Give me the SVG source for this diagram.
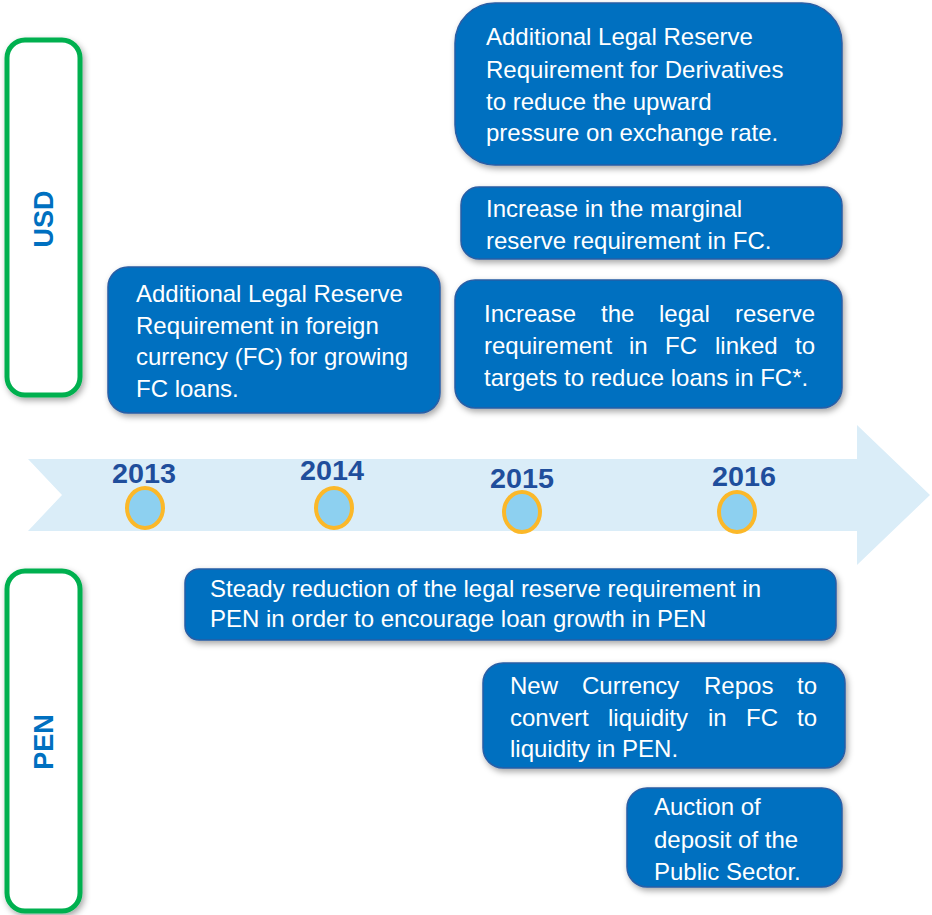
<svg xmlns="http://www.w3.org/2000/svg" width="932" height="915" viewBox="0 0 932 915">
<defs>
<filter id="sh" x="-10%" y="-10%" width="125%" height="135%">
<feDropShadow dx="2" dy="3" stdDeviation="3" flood-color="#000" flood-opacity="0.35"/>
</filter>
<style>
.box{fill:#0070C0;stroke:#2A5EA5;stroke-width:1.5;filter:url(#sh)}
.side{fill:#fff;stroke:#00B050;stroke-width:5;filter:url(#sh)}
.t{font-family:"Liberation Sans",Arial,sans-serif;font-size:24px;fill:#fff}
.side-t{font-family:"Liberation Sans",Arial,sans-serif;font-size:27px;font-weight:bold;fill:#0070C0}
.yr{font-family:"Liberation Sans",Arial,sans-serif;font-size:28px;font-weight:bold;fill:#1F4E9C;text-anchor:middle}
.dot{fill:#8DD0F0;stroke:#FBB829;stroke-width:4}
</style>
</defs>
<rect width="932" height="915" fill="#fff"/>

<g id="usd">
<rect class="side" x="7" y="40" width="73" height="355" rx="18"/>
<text class="side-t" transform="translate(53,219) rotate(-90)" text-anchor="middle">USD</text>
</g>
<g id="pen">
<rect class="side" x="7" y="571" width="73" height="340" rx="18"/>
<text class="side-t" transform="translate(53,742) rotate(-90)" text-anchor="middle">PEN</text>
</g>

<g id="timeline">
<polygon points="28,459 857,459 857,425 930,495 857,565 857,531 28,531 62,495" fill="#DAEDF8"/>
<ellipse class="dot" cx="145" cy="508" rx="18" ry="20"/>
<ellipse class="dot" cx="334" cy="508" rx="18" ry="20"/>
<ellipse class="dot" cx="522" cy="512" rx="18" ry="20"/>
<ellipse class="dot" cx="737" cy="512" rx="18" ry="20"/>
<text class="yr" x="144" y="483" textLength="64" lengthAdjust="spacingAndGlyphs">2013</text>
<text class="yr" x="332" y="480" textLength="64" lengthAdjust="spacingAndGlyphs">2014</text>
<text class="yr" x="522" y="488" textLength="64" lengthAdjust="spacingAndGlyphs">2015</text>
<text class="yr" x="744" y="486" textLength="64" lengthAdjust="spacingAndGlyphs">2016</text>
</g>

<g id="connectors"></g>

<g id="derivatives">
<rect class="box" x="455" y="3" width="387" height="162" rx="40"/>
<text class="t" x="486" y="45">Additional Legal Reserve</text>
<text class="t" x="486" y="78">Requirement for Derivatives</text>
<text class="t" x="486" y="110">to reduce the upward</text>
<text class="t" x="486" y="141">pressure on exchange rate.</text>
</g>

<g id="marginal">
<rect class="box" x="461" y="187" width="381" height="72" rx="18"/>
<text class="t" x="486" y="217">Increase in the marginal</text>
<text class="t" x="486" y="249">reserve requirement in FC.</text>
</g>

<g id="targets">
<rect class="box" x="455" y="280" width="387" height="128" rx="20"/>
<text class="t" y="322"><tspan x="484">Increase</tspan><tspan x="601">the</tspan><tspan x="659">legal</tspan><tspan x="815" text-anchor="end">reserve</tspan></text>
<text class="t" y="354"><tspan x="484">requirement</tspan><tspan x="629">in</tspan><tspan x="665">FC</tspan><tspan x="715">linked</tspan><tspan x="815" text-anchor="end">to</tspan></text>
<text class="t" x="484" y="386">targets to reduce loans in FC*.</text>
</g>

<g id="fc-loans">
<rect class="box" x="108" y="267" width="332" height="146" rx="20"/>
<text class="t" x="136" y="302">Additional Legal Reserve</text>
<text class="t" x="136" y="334">Requirement in foreign</text>
<text class="t" x="136" y="365">currency (FC) for growing</text>
<text class="t" x="136" y="397">FC loans.</text>
</g>

<g id="steady">
<rect class="box" x="185" y="569" width="651" height="71" rx="14"/>
<text class="t" x="210" y="597">Steady reduction of the legal reserve requirement in</text>
<text class="t" x="210" y="627">PEN in order to encourage loan growth in PEN</text>
</g>

<g id="repos">
<rect class="box" x="483" y="663" width="362" height="105" rx="20"/>
<text class="t" y="694"><tspan x="510">New</tspan><tspan x="582">Currency</tspan><tspan x="704">Repos</tspan><tspan x="817" text-anchor="end">to</tspan></text>
<text class="t" y="726"><tspan x="510">convert</tspan><tspan x="608">liquidity</tspan><tspan x="708">in</tspan><tspan x="746">FC</tspan><tspan x="817" text-anchor="end">to</tspan></text>
<text class="t" x="510" y="757">liquidity in PEN.</text>
</g>

<g id="auction">
<rect class="box" x="627" y="788" width="215" height="99" rx="20"/>
<text class="t" x="654" y="815">Auction of</text>
<text class="t" x="654" y="848">deposit of the</text>
<text class="t" x="654" y="880">Public Sector.</text>
</g>
</svg>
